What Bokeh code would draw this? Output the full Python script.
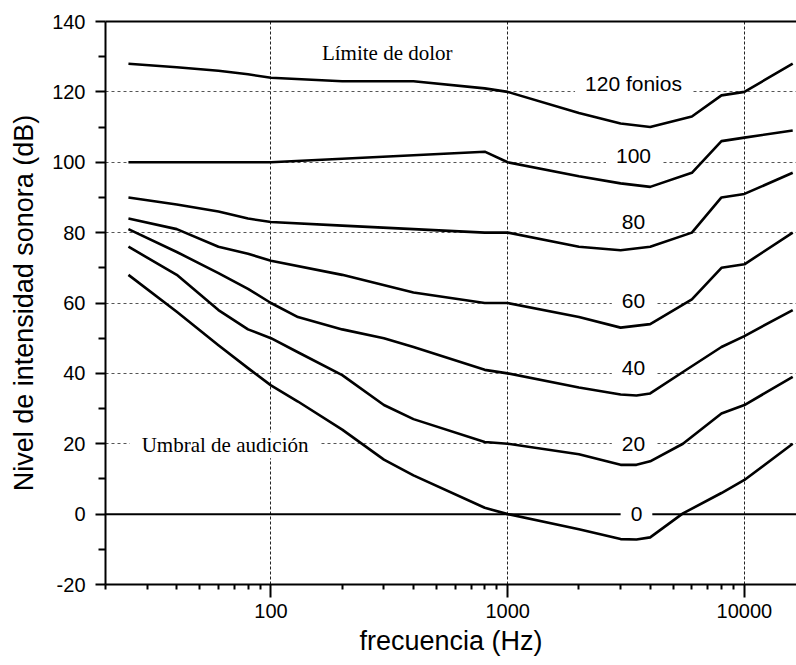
from bokeh.plotting import figure
from bokeh.models import FixedTicker, Label, Span, LinearAxis, Range1d, NumeralTickFormatter
from bokeh.embed import file_html
from bokeh.resources import INLINE

# ---------------- data ----------------
freq_a = [25, 40, 60, 80, 100, 200, 400, 800, 1000, 2000, 3000, 4000, 6000, 8000, 10000, 16000]
phon_120 = [128, 127, 126, 125, 124, 123, 123, 121, 120, 114, 111, 110, 113, 119, 120, 128]
phon_100 = [100, 100, 100, 100, 100, 101, 102, 103, 100, 96, 94, 93, 97, 106, 107, 109]
phon_80 = [90, 88, 86, 84, 83, 82, 81, 80, 80, 76, 75, 76, 80, 90, 91, 97]
phon_60 = [84, 81, 76, 74, 72, 68, 63, 60, 60, 56, 53, 54, 61, 70, 71, 80]

freq_b = [25, 40, 60, 80, 100, 130, 200, 300, 400, 800, 1000, 2000, 3000, 3500, 4000, 5500, 8000, 10000, 16000]
phon_40 = [81, 74.5, 68.5, 64, 60, 56, 52.5, 50, 47.5, 41, 40, 36, 34, 33.7, 34.3, 40.4, 47.5, 50.6, 58]
phon_20 = [76, 68, 58, 52.5, 50, 46, 39.5, 31, 27, 20.5, 20, 17, 14, 14, 15, 20, 28.6, 31, 39]
phon_0 = [68, 57.5, 48, 41.5, 36.6, 32, 24, 15.5, 11, 1.8, 0, -4.3, -7.1, -7.2, -6.6, 0.2, 6, 9.7, 20]

x_major_ticks = [100, 1000, 10000]
x_minor_ticks = [20, 30, 40, 50, 60, 70, 80, 90, 200, 300, 400, 500, 600, 700, 800, 900,
                 2000, 3000, 4000, 5000, 6000, 7000, 8000, 9000]
y_major_ticks = [-20, 0, 20, 40, 60, 80, 100, 120, 140]
y_minor_ticks = [-10, 10, 30, 50, 70, 90, 110, 130]

curve_labels = ["120 fonios", "100", "80", "60", "40", "20", "0"]
curve_label_x = [3400, 3400, 3400, 3400, 3400, 3400, 3500]
curve_label_y = [122.5, 101.8, 83, 60.5, 41.5, 20, 0]

note_labels = ["Límite de dolor", "Umbral de audición"]
note_label_x = [310, 64]
note_label_y = [131, 19.6]

SANS = "Liberation Sans"
SERIF = "Liberation Serif"

p = figure(width=796, height=665, x_axis_type="log",
           x_range=Range1d(20, 16600), y_range=Range1d(-20, 140),
           output_backend="svg", toolbar_location=None,
           min_border_left=105, min_border_right=0, min_border_top=21, min_border_bottom=81)
p.outline_line_color = None
p.background_fill_color = "white"
p.border_fill_color = "white"

# axes
p.xaxis.ticker = FixedTicker(ticks=x_major_ticks, minor_ticks=x_minor_ticks)
p.xaxis.formatter = NumeralTickFormatter(format="0")
p.yaxis.ticker = FixedTicker(ticks=y_major_ticks, minor_ticks=y_minor_ticks)
p.yaxis.formatter = NumeralTickFormatter(format="0")

for ax in (p.xaxis[0], p.yaxis[0]):
    ax.axis_line_width = 2
    ax.axis_line_color = "black"
    ax.major_tick_line_width = 2
    ax.minor_tick_line_width = 2
    ax.major_tick_line_color = "black"
    ax.minor_tick_line_color = "black"
    ax.major_tick_in = 0
    ax.minor_tick_in = 0
    ax.major_label_text_font = SANS
    ax.major_label_text_font_size = "20px"
    ax.major_label_text_color = "black"
    ax.axis_label_text_font = SANS
    ax.axis_label_text_font_size = "27px"
    ax.axis_label_text_font_style = "normal"
    ax.axis_label_text_color = "black"

p.xaxis.major_tick_out = 13
p.xaxis.minor_tick_out = 5
p.xaxis.major_label_standoff = 6
p.xaxis.axis_label_standoff = 5
p.xaxis.axis_label = "frecuencia (Hz)"

p.yaxis.major_tick_out = 10
p.yaxis.minor_tick_out = 7
p.yaxis.major_label_standoff = 10
p.yaxis.axis_label_standoff = 10
p.yaxis.axis_label = "Nivel de intensidad sonora (dB)"

top_axis = LinearAxis(ticker=FixedTicker(ticks=[]), major_label_text_font_size="0px",
                      major_tick_out=0, minor_tick_out=0, major_label_standoff=0,
                      axis_line_width=2, axis_line_color="black")
p.add_layout(top_axis, "above")

# grids
p.xgrid.ticker = FixedTicker(ticks=x_major_ticks)
p.xgrid.grid_line_color = "#222222"
p.xgrid.grid_line_dash = "3 2"
p.xgrid.grid_line_width = 1
p.ygrid.ticker = FixedTicker(ticks=y_major_ticks)
p.ygrid.grid_line_color = "#555555"
p.ygrid.grid_line_dash = "3 3"
p.ygrid.grid_line_width = 1

# zero line
p.add_layout(Span(location=0, dimension="width", line_color="black", line_width=2))

# curves
for fr, vals in [(freq_a, phon_120), (freq_a, phon_100), (freq_a, phon_80), (freq_a, phon_60),
                 (freq_b, phon_40), (freq_b, phon_20), (freq_b, phon_0)]:
    p.line(fr, vals, line_color="black", line_width=2.6, line_join="round")

# labels
for t, x, y in zip(curve_labels, curve_label_x, curve_label_y):
    p.add_layout(Label(x=x, y=y, text=t, text_align="center", text_baseline="middle",
                       text_font=SANS, text_font_size="21px", text_color="black",
                       background_fill_color="white",
                       padding=dict(left=10, right=10, top=1, bottom=1)))
for t, x, y in zip(note_labels, note_label_x, note_label_y):
    p.add_layout(Label(x=x, y=y, text=t, text_align="center", text_baseline="middle",
                       text_font=SERIF, text_font_size="21px", text_color="black",
                       background_fill_color="white",
                       padding=dict(left=12, right=12, top=1, bottom=1)))

open("out.html", "w").write(file_html(p, INLINE))
